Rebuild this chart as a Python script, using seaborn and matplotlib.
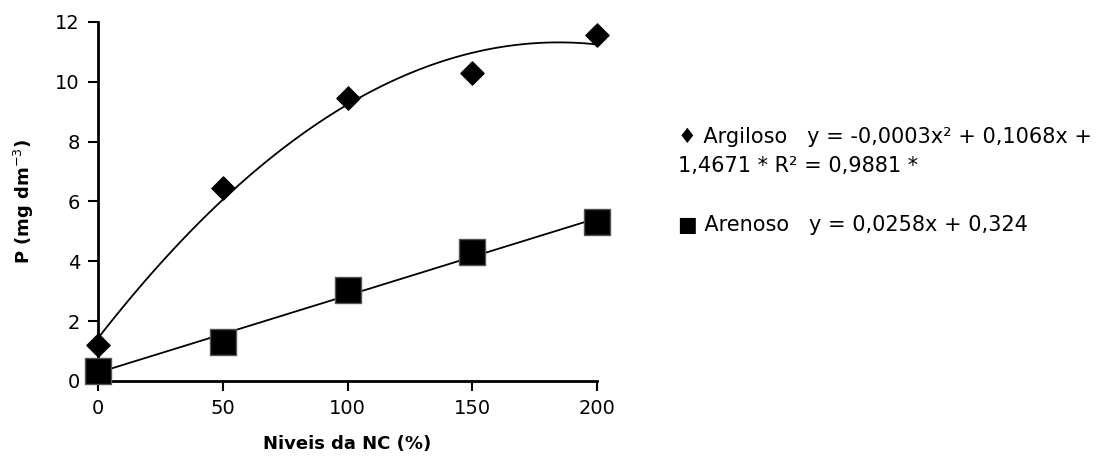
import numpy as np
import pandas as pd
import matplotlib
matplotlib.use("Agg")
import matplotlib.pyplot as plt
import seaborn as sns

# Donnees
niveis = [0, 50, 100, 150, 200]
argiloso = [1.2, 6.45, 9.45, 10.3, 11.55]
arenoso = [0.35, 1.3, 3.05, 4.3, 5.3]

eq_argiloso = "\u2666 Argiloso   y = -0,0003x\u00b2 + 0,1068x +\n1,4671 * R\u00b2 = 0,9881 *"
eq_arenoso = "\u25a0 Arenoso   y = 0,0258x + 0,324"

df = pd.DataFrame({"nc": niveis, "argiloso": argiloso, "arenoso": arenoso})

sns.set_style("white")
plt.rcParams["font.family"] = ["DejaVu Sans"]
plt.rcParams["text.color"] = "black"
plt.rcParams["axes.labelcolor"] = "black"

fig = plt.figure(figsize=(11.09, 4.67), dpi=100)
ax = fig.add_axes([98 / 1109, 86 / 467, 499 / 1109, 359 / 467])

# courbes de tendance (polynome ordre 2 et droite)
sns.regplot(data=df, x="nc", y="argiloso", order=2, ci=None, scatter=False,
            line_kws={"color": "black", "lw": 1.3}, ax=ax)
sns.regplot(data=df, x="nc", y="arenoso", order=1, ci=None, scatter=False,
            line_kws={"color": "black", "lw": 1.3}, ax=ax)

sns.scatterplot(data=df, x="nc", y="argiloso", marker="D", s=140, color="black",
                edgecolor="black", ax=ax, zorder=3, clip_on=False)
sns.scatterplot(data=df, x="nc", y="arenoso", marker="s", s=330, color="black",
                edgecolor="#555555", linewidth=1, ax=ax, zorder=3, clip_on=False)

ax.set_xlim(0, 200)
ax.set_ylim(0, 12)
ax.set_xticks([0, 50, 100, 150, 200])
ax.set_yticks([0, 2, 4, 6, 8, 10, 12])
ax.tick_params(axis="both", direction="out", length=7, width=1.5, colors="black",
               labelsize=14, left=True, bottom=True, pad=6)
sns.despine(ax=ax)
for s in ["left", "bottom"]:
    ax.spines[s].set_color("black")
    ax.spines[s].set_linewidth(2)

ax.set_xlabel("Niveis da NC (%)", fontsize=13, fontweight="bold", labelpad=12)
ax.set_ylabel("P (mg dm$^{-3}$)", fontsize=13, fontweight="bold", labelpad=14)

fig.text(678 / 1109, 1 - 127 / 467, eq_argiloso, fontsize=15, va="top",
         linespacing=1.55, color="black")
fig.text(678 / 1109, 1 - 225 / 467, eq_arenoso, fontsize=15, va="center",
         color="black")

fig.savefig("out.png", dpi=100)
